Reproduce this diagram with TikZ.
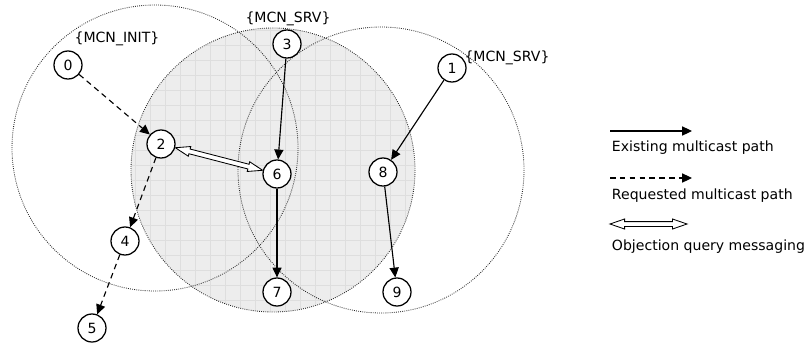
\documentclass[tikz,border=0pt]{standalone}
\usepackage{fontspec}
\setmainfont{DejaVu Sans}
\usetikzlibrary{arrows.meta, shapes.arrows}

\tikzset{
	vertex/.style={circle, draw, line width=0.9pt, fill=white, minimum size=0.7cm, inner sep=0pt},
	rangeedge/.style={draw=black!85, line width=0.6pt, dash pattern=on 0.6pt off 0.9pt},
	existing/.style={-{Triangle[length=7pt,width=6.5pt]}, line width=0.8pt},
	requested/.style={existing, dash pattern=on 4pt off 3pt},
	query/.style={double arrow, draw, fill=white, line width=0.6pt, inner xsep=0pt, inner ysep=0.05cm,
		double arrow head extend=0.065cm, double arrow tip angle=38},
}

\begin{document}
\begin{tikzpicture}[x=0.025cm, y=-0.025cm, font=\fontsize{10}{12}\selectfont]
	\useasboundingbox (0,0) rectangle (806,343);
	% shaded range of the middle server
	\begin{scope}
		\clip (273,170) circle[radius=142];
		\fill[black!7] (131,28) rectangle (415,312);
		\draw[black!13, line width=0.3pt, step=0.375cm] (131,28) grid (415,312);
	\end{scope}
	\draw[rangeedge] (155,148) circle[radius=143];
	\draw[rangeedge] (273,170) circle[radius=142];
	\draw[rangeedge] (381,170) circle[radius=143];
	% hosts
	\node[vertex] (n0) at (68,65) {0};
	\node[vertex] (n1) at (452,68) {1};
	\node[vertex] (n2) at (161,144) {2};
	\node[vertex] (n3) at (287,44) {3};
	\node[vertex] (n4) at (125,241) {4};
	\node[vertex] (n5) at (92,328) {5};
	\node[vertex] (n6) at (277,174) {6};
	\node[vertex] (n7) at (277,292) {7};
	\node[vertex] (n8) at (383,172) {8};
	\node[vertex] (n9) at (397,292) {9};
	\node (initlbl) at (117,39) {\{MCN\_INIT\}};
	\node (srvlbl) at (288,19) {\{MCN\_SRV\}};
	\node (srvlblb) at (507,58) {\{MCN\_SRV\}};
	% paths
	\draw[requested] (n0) -- (n2);
	\draw[requested] (n2) -- (n4);
	\draw[requested] (n4) -- (n5);
	\draw[existing] (n3) -- (n6);
	\draw[existing] (n6) -- (n7);
	\draw[existing] (n1) -- (n8);
	\draw[existing] (n8) -- (n9);
	\path (n2) -- (n6) node[midway, sloped, query, minimum height=2.25cm] (q26) {};
	% legend
	\coordinate (ex0) at (610,131);
	\coordinate (ex1) at (692,131);
	\draw[existing] (ex0) -- (ex1);
	\node[anchor=west] (extxt) at (607,148) {Existing multicast path};
	\coordinate (rq0) at (610,178);
	\coordinate (rq1) at (692,178);
	\draw[requested] (rq0) -- (rq1);
	\node[anchor=west] (rqtxt) at (607,196) {Requested multicast path};
	\node[query, minimum height=1.925cm] (qleg) at (648.5,224) {};
	\node[anchor=west] (qtxt) at (607,247) {Objection query messaging};
\end{tikzpicture}
\end{document}
